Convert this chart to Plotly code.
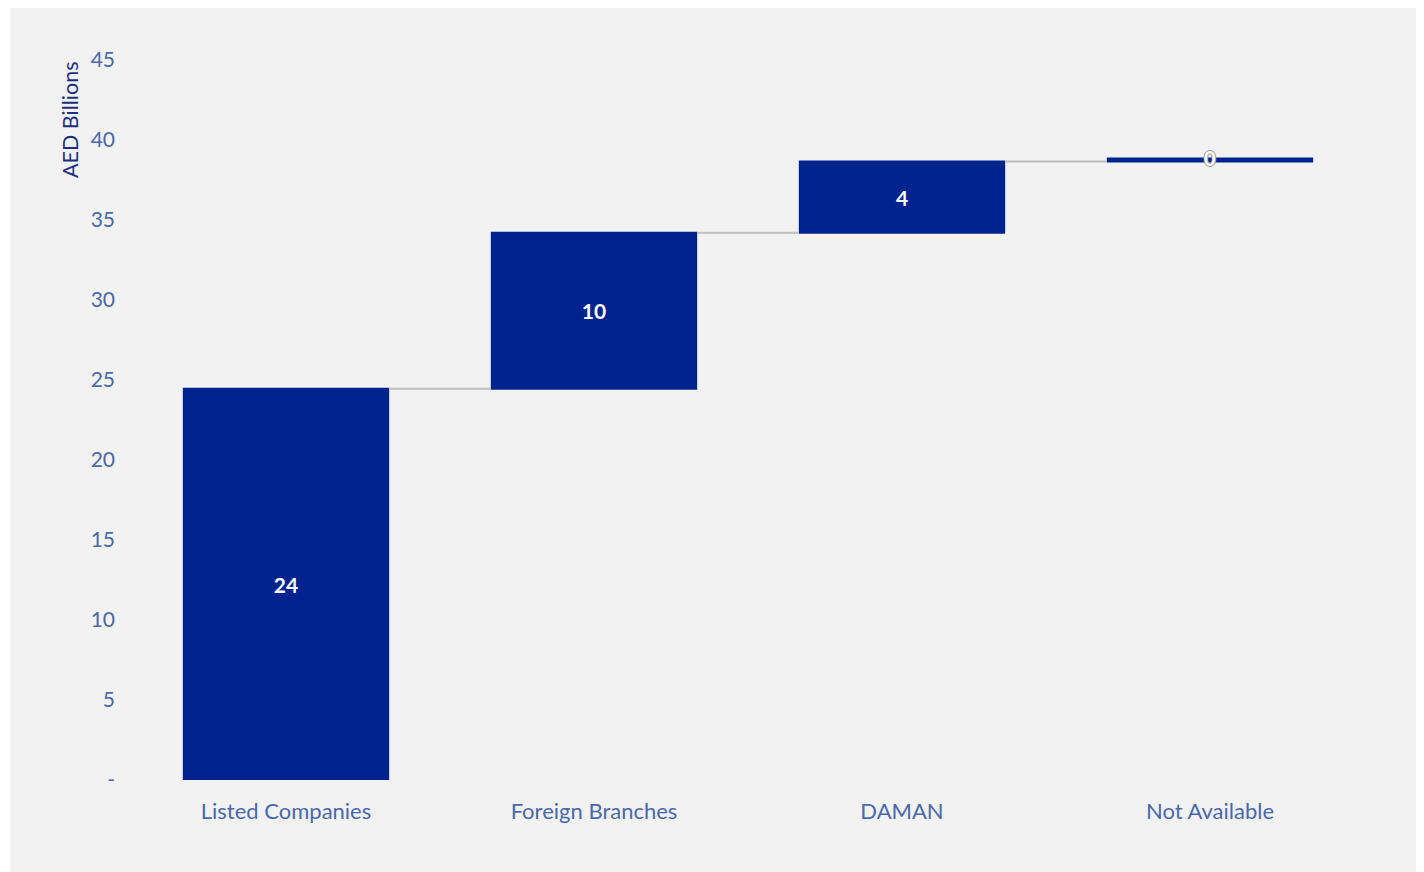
import plotly.graph_objects as go

categories = ["Listed Companies", "Foreign Branches", "DAMAN", "Not Available"]
values = [24.45, 9.75, 4.45, 0.2]
tick_vals = [0, 5, 10, 15, 20, 25, 30, 35, 40, 45]
tick_text = ["-", "5", "10", "15", "20", "25", "30", "35", "40", "45"]
labels = [f"{v:.0f}" for v in values]

BAR = "#00238e"
TICK = "#4a68a8"
TITLE = "#1c2f7e"
FONT = "Lato"

W, H = 1416, 864
ml, mr, mt, mb = 124, 60, 52, 92
pw, ph = W - ml - mr, H - mt - mb

fig = go.Figure()
fig.add_trace(go.Waterfall(
    x=categories,
    y=values,
    measure=["relative"] * len(values),
    text=labels[:-1] + [""],
    textposition="inside",
    insidetextanchor="middle",
    textfont=dict(color="white", size=21, family=FONT, weight="bold"),
    increasing=dict(marker=dict(color=BAR, line=dict(color=BAR, width=0))),
    decreasing=dict(marker=dict(color=BAR)),
    connector=dict(line=dict(color="#bfbfbf", width=2)),
    width=0.67,
    hoverinfo="skip",
))

fig.add_annotation(
    x=categories[-1], y=sum(values), text=labels[-1], showarrow=False,
    font=dict(color="white", size=20, family=FONT, weight="bold",
              shadow="1px 0 0 #999, -1px 0 0 #999, 0 1px 0 #999, 0 -1px 0 #999"),
    xref="x", yref="y",
)

fig.add_annotation(
    text="AED Billions", textangle=-90, showarrow=False,
    xref="paper", yref="paper", x=(62 - ml) / pw, y=1.0,
    xanchor="center", yanchor="top",
    font=dict(color=TITLE, size=21.5, family=FONT),
)

fig.add_shape(
    type="rect", xref="paper", yref="paper", layer="below",
    x0=(2 - ml) / pw, x1=(W - ml) / pw,
    y0=-mb / ph, y1=(H - mb + 3) / ph,
    fillcolor="#f2f2f2", line=dict(width=0),
)

fig.update_layout(
    width=W, height=H,
    margin=dict(l=ml, r=mr, t=mt, b=mb),
    paper_bgcolor="white",
    plot_bgcolor="rgba(0,0,0,0)",
    showlegend=False,
    font=dict(family=FONT, color=TICK, size=20),
)
fig.update_xaxes(showgrid=False, zeroline=False, showline=False, ticks="",
                 tickfont=dict(size=22, color=TICK), ticklabelstandoff=16)
fig.update_yaxes(range=[0, 45], tickvals=tick_vals, ticktext=tick_text,
                 showgrid=False, zeroline=False, showline=False, ticks="",
                 tickfont=dict(size=21, color=TICK), ticklabelstandoff=16)

fig.write_html("out.html")
